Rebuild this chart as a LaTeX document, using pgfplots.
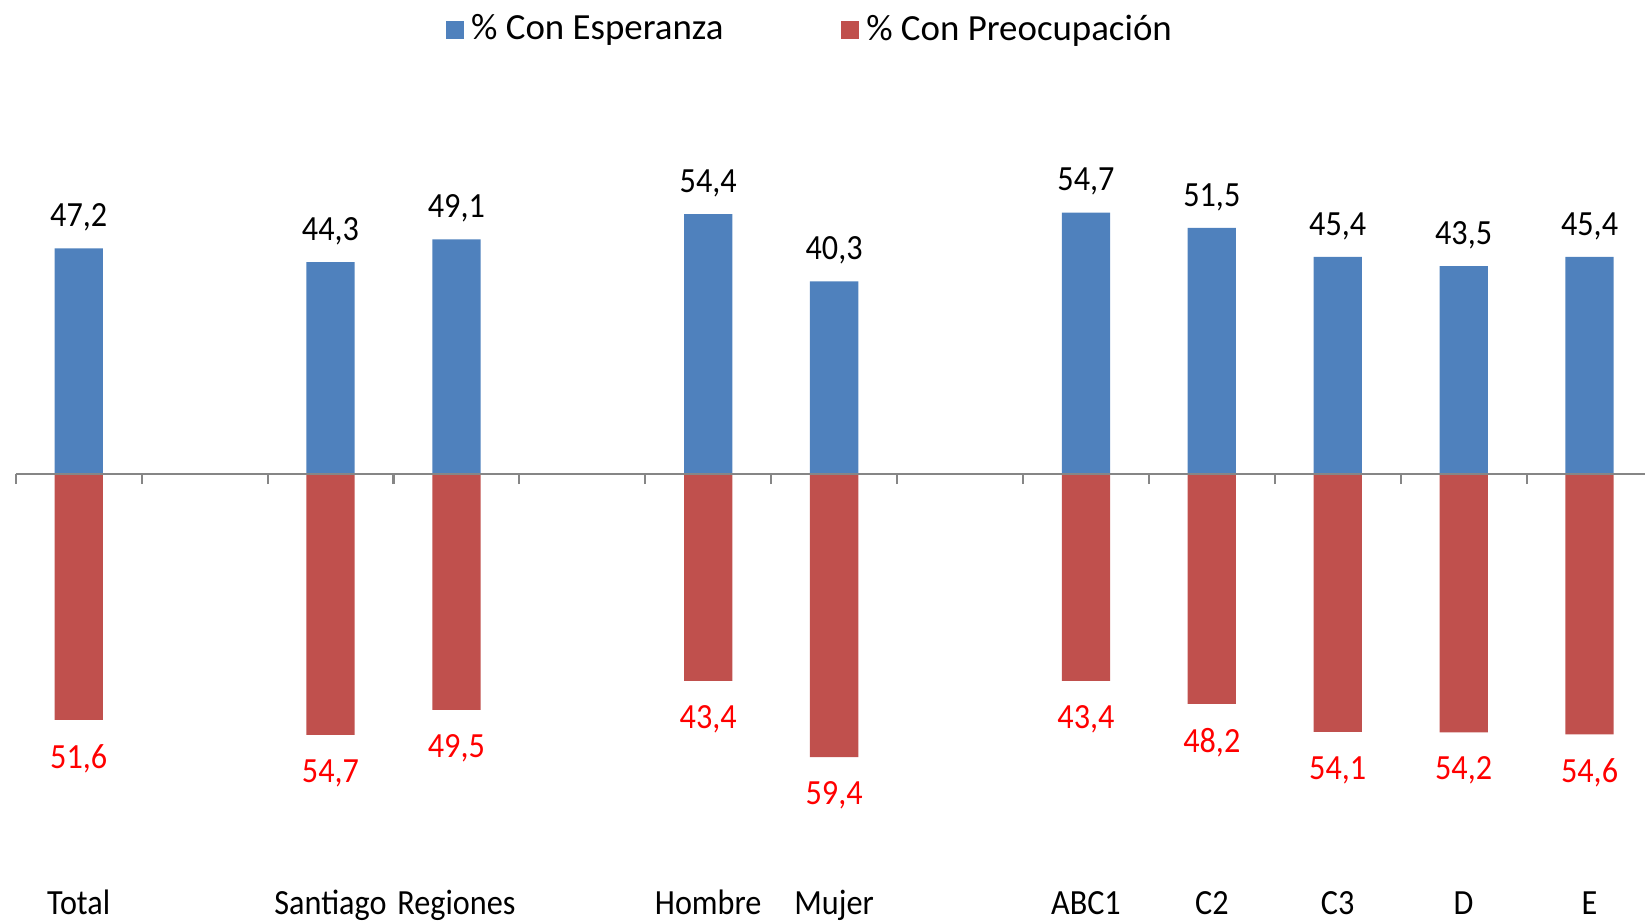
\documentclass[border=0pt]{standalone}
\usepackage{fontspec}
\setmainfont{Carlito}
\newfontfamily\narrowfont{Carlito}[FakeStretch=0.91]
\usepackage{pgfplots}
\pgfplotsset{compat=1.18}
\usepackage{pgfplotstable}
\definecolor{espblue}{RGB}{79,129,189}
\definecolor{preored}{RGB}{192,80,77}
\definecolor{axgray}{RGB}{134,134,134}

% slots: 0 Total, 2 Santiago, 3 Regiones, 5 Hombre, 6 Mujer, 8 ABC1 ... 12 E
\pgfplotstableread{
x  esp  preo
0  47.2 51.6
2  44.3 54.7
3  49.1 49.5
5  54.4 43.4
6  40.3 59.4
8  54.7 43.4
9  51.5 48.2
10 45.4 54.1
11 43.5 54.2
12 45.4 54.6
}\datos

\begin{document}
\begin{tikzpicture}
\begin{axis}[
  scale only axis,
  width=156.8mm, height=87.8mm,
  xmin=-0.625, xmax=12.44,
  ymin=-94.07, ymax=98.9,
  axis x line=middle, axis y line=none,
  x axis line style={draw=none},
  xtick={0,...,12},
  xticklabels={Total,,Santiago,Regiones,,Hombre,Mujer,,ABC1,C2,C3,D,E},
  major tick length=0pt,
  minor xtick={-0.5,0.5,...,11.5},
  minor tick length=1mm,
  tick align=outside,
  minor x tick style={axgray, line width=0.2mm},
  xticklabel style={font=\narrowfont\fontsize{9.6}{11}\selectfont, anchor=base,
    inner sep=0pt, yshift=-42mm},
  clip=false,
  legend style={at={(rel axis cs:0.494,0.969)}, anchor=center, draw=none, fill=none,
    legend columns=2, font=\fontsize{10}{12}\selectfont,
    /tikz/every even column/.append style={column sep=10.5mm}},
  legend image code/.code={\fill[#1] (0mm,-0.85mm) rectangle (1.7mm,0.85mm);},
  nodes near coords style={font=\narrowfont\fontsize{9.6}{11}\selectfont},
  /pgf/number format/use comma,
  /pgf/number format/fixed,
  /pgf/number format/fixed zerofill,
  /pgf/number format/precision=1,
  /pgf/number format/assume math mode=true,
]
\addplot[ybar, bar width=4.6mm, bar shift=0pt, fill=espblue, draw=none,
  nodes near coords, nodes near coords align=above,
  every node near coord/.append style={black, yshift=0.4mm}]
  table[x=x, y=esp] {\datos};
\addlegendentry{\% Con Esperanza}
\addplot[ybar, bar width=4.6mm, bar shift=0pt, fill=preored, draw=none,
  point meta=explicit, nodes near coords, nodes near coords align=below,
  every node near coord/.append style={red, yshift=-1.1mm}]
  table[x=x, y expr=-\thisrow{preo}, meta=preo] {\datos};
\addlegendentry{\% Con Preocupación}
\draw[axgray, line width=0.2mm] (axis cs:-0.5,0) -- (axis cs:12.44,0);
\path (rel axis cs:0,0) rectangle (rel axis cs:1,1);
\end{axis}
\end{tikzpicture}
\end{document}
